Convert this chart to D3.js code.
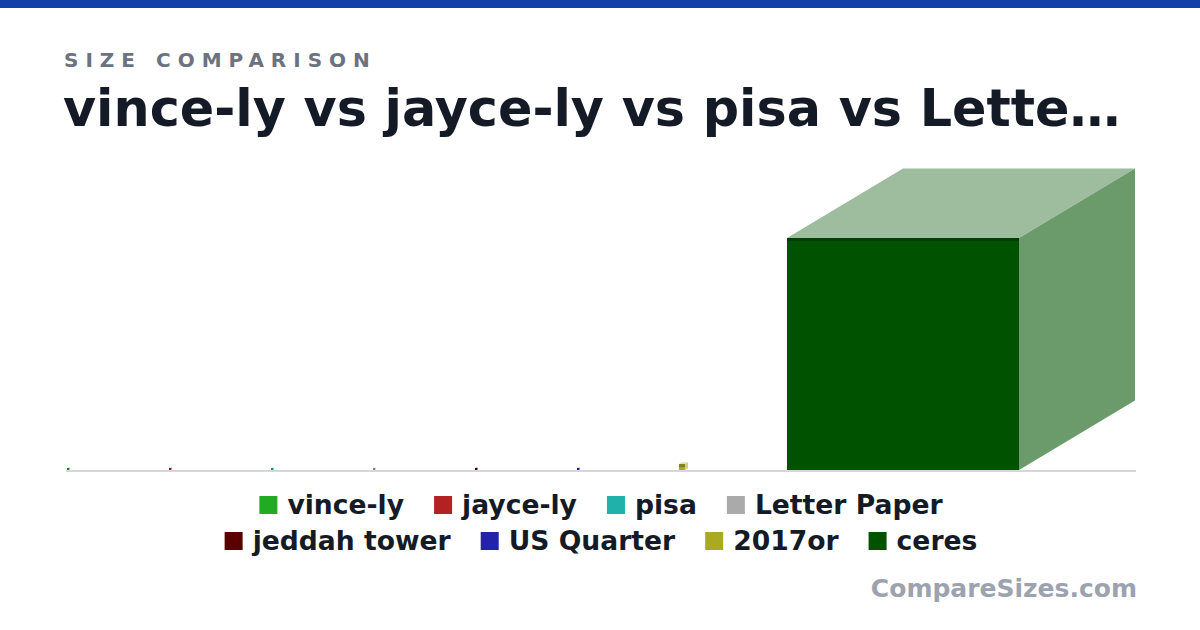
<!DOCTYPE html>
<html>
<head>
<meta charset="utf-8">
<script src="https://cdn.jsdelivr.net/npm/d3@7/dist/d3.min.js"></script>
<style>
  html, body { margin: 0; padding: 0; background: #ffffff; }
  svg { display: block; }
  text { font-family: "DejaVu Sans", sans-serif; font-weight: bold; }
</style>
</head>
<body>
<svg id="chart" width="1200" height="630"></svg>
<script>
// ---- data ----
const categories = ["vince-ly", "jayce-ly", "pisa", "Letter Paper", "jeddah tower", "US Quarter", "2017or", "ceres"];
const sizesMeters = [1.75, 1.7, 56.7, 0.279, 1000, 0.02426, 24000, 939400];
const colors = ["#22aa22", "#b22222", "#20b2aa", "#aaaaaa", "#5a0000", "#2222aa", "#aaaa22", "#005200"];
const legendRows = [["vince-ly", "jayce-ly", "pisa", "Letter Paper"], ["jeddah tower", "US Quarter", "2017or", "ceres"]];
const titleText = "vince-ly vs jayce-ly vs pisa vs Lette\u2026";
const subtitleText = "SIZE COMPARISON";
const watermarkText = "CompareSizes.com";

const svg = d3.select("#chart");
const W = 1200, H = 630;

// top bar
svg.append("rect").attr("x", 0).attr("y", 0).attr("width", W).attr("height", 8).attr("fill", "#1240a8");

// subtitle + title
svg.append("text").attr("x", 64).attr("y", 67).attr("fill", "#6b7280")
  .attr("font-size", 20).attr("letter-spacing", "7px").text(subtitleText);
svg.append("text").attr("x", 63).attr("y", 126).attr("fill", "#141b26")
  .attr("font-size", 50.8).text(titleText);

// scales
const plotLeft = 67, plotRight = 1135, baseY = 470, topY = 238;
const x = d3.scaleBand().domain(categories).range([plotLeft, plotLeft + 102 * categories.length]).paddingInner(0).paddingOuter(0);
const y = d3.scaleLinear().domain([0, d3.max(sizesMeters)]).range([baseY, topY]);
const colorScale = d3.scaleOrdinal().domain(categories).range(colors);

const data = categories.map((c, i) => ({ name: c, value: sizesMeters[i] }));

// baseline
svg.append("line").attr("x1", 66).attr("x2", 1136).attr("y1", 471).attr("y2", 471)
  .attr("stroke", "#d5d7dc").attr("stroke-width", 2);

const white = d3.rgb("#ffffff");
function mix(c, t) { return d3.interpolateRgb(c, white)(t); }

const g = svg.append("g");
data.forEach((d, i) => {
  const s = Math.max(2, baseY - y(d.value));
  const dx = s * 0.5, dy = s * 0.3;
  const x0 = (i === data.length - 1) ? plotRight - s - dx : x(d.name);
  const c = colorScale(d.name);
  const yt = baseY - s;
  // top face
  g.append("polygon")
    .attr("points", [[x0, yt], [x0 + dx, yt - dy], [x0 + s + dx, yt - dy], [x0 + s, yt]].map(p => p.join(",")).join(" "))
    .attr("fill", mix(c, 0.62));
  // side face
  g.append("polygon")
    .attr("points", [[x0 + s, yt], [x0 + s + dx, yt - dy], [x0 + s + dx, baseY - dy], [x0 + s, baseY]].map(p => p.join(",")).join(" "))
    .attr("fill", mix(c, 0.42));
  // front face
  g.append("rect").attr("x", x0).attr("y", yt).attr("width", s).attr("height", s).attr("fill", c);
  // top edge
  g.append("rect").attr("x", x0).attr("y", yt).attr("width", s).attr("height", Math.min(3, s))
    .attr("fill", d3.color(c).darker(0.8));
});

// legend
const legendY = [505, 541];
const gap = 30;
legendRows.forEach((row, ri) => {
  const lg = svg.append("g");
  let cx = 0;
  row.forEach((name, k) => {
    const item = lg.append("g").attr("transform", `translate(${cx},0)`);
    item.append("rect").attr("x", 0).attr("y", -9).attr("width", 18).attr("height", 18).attr("fill", colorScale(name));
    const t = item.append("text").attr("x", 28).attr("y", 9).attr("font-size", 26.6).attr("fill", "#141b26").text(name);
    const tw = t.node().getComputedTextLength();
    cx += 28 + tw + gap;
  });
  const total = cx - gap;
  lg.attr("transform", `translate(${601 - total / 2},${legendY[ri]})`);
});

// watermark
svg.append("text").attr("x", 1137).attr("y", 597).attr("text-anchor", "end")
  .attr("fill", "#9ca3af").attr("font-size", 25).text(watermarkText);
</script>
</body>
</html>
